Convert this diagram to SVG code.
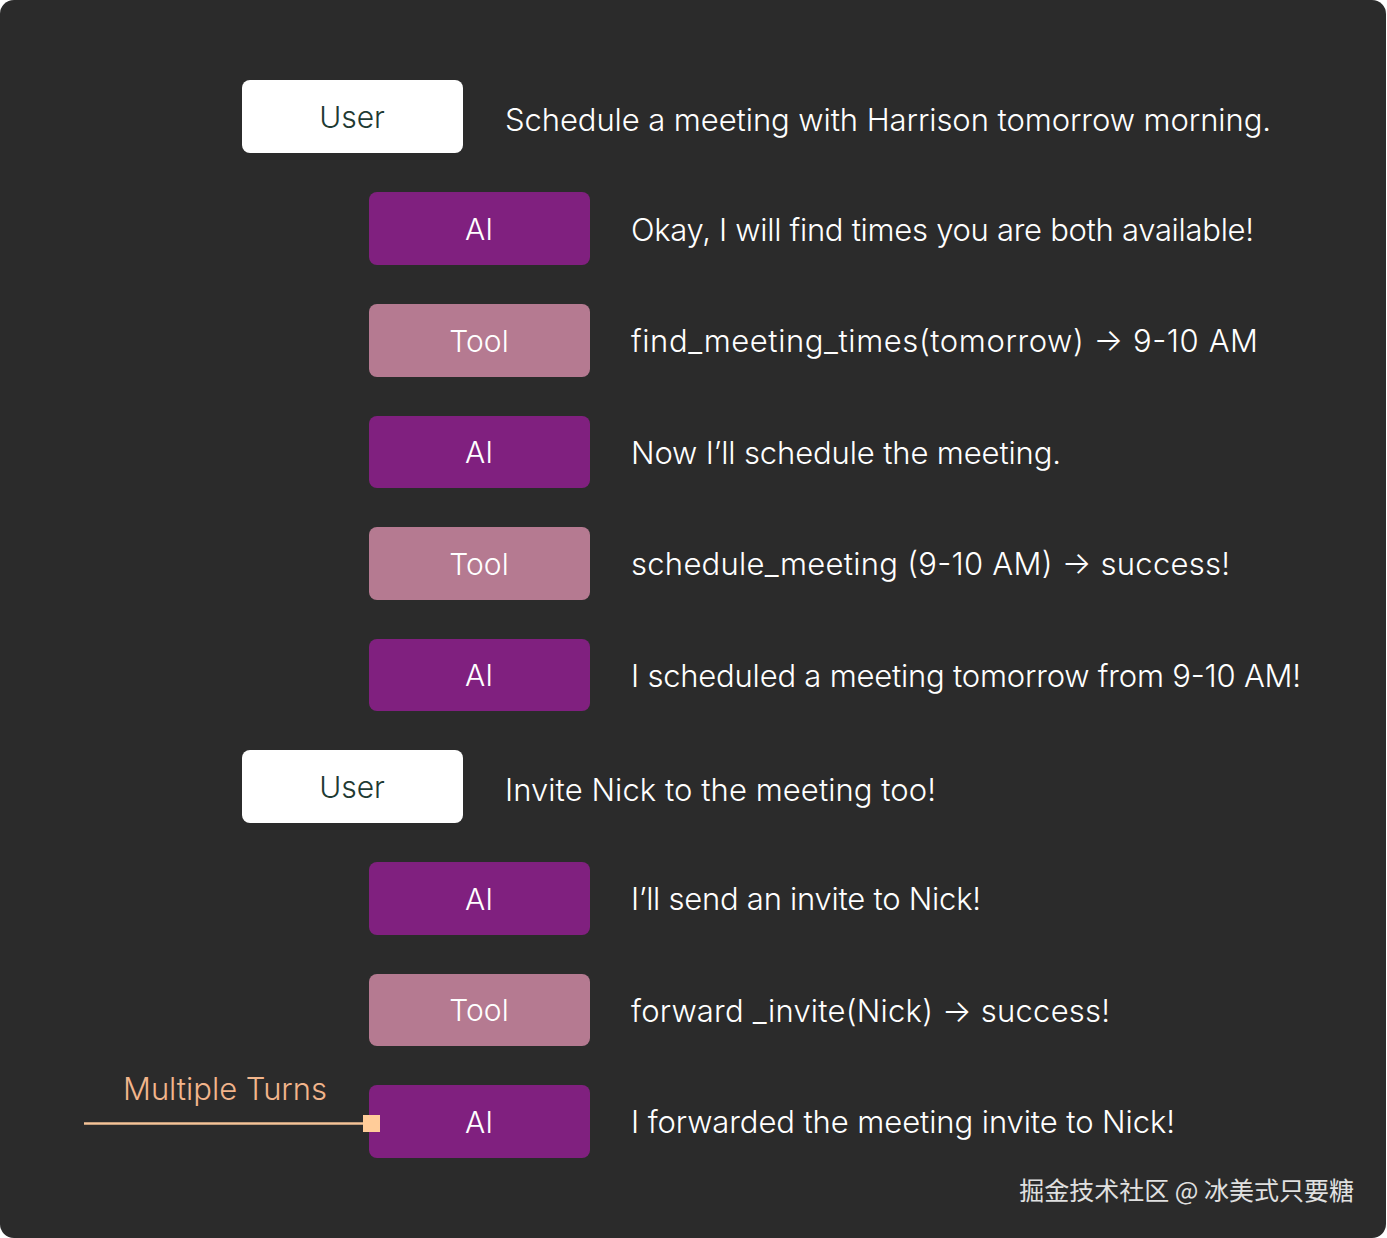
<svg xmlns="http://www.w3.org/2000/svg" width="1387" height="1238" viewBox="0 0 1387 1238">
<style>
.box{stroke:none}
.user{fill:#ffffff}
.ai{fill:#80207f}
.tool{fill:#b57a91}
.lbl{font-family:Inter,"Open Sans","Noto Sans",sans-serif;font-size:30px;font-weight:300;text-anchor:middle;fill:#ffffff}
.ulbl{fill:#1f3a32}
.msg{font-family:Inter,"Open Sans","Noto Sans",sans-serif;font-size:31px;font-weight:300;fill:#ffffff}
</style>
<rect x="0" y="0" width="1386" height="1238" rx="14" fill="#2b2b2b"/>
<g id="row1"><rect class="box user" x="242" y="80" width="221" height="73" rx="8"/><text class="lbl ulbl" x="352" y="128">User</text><text class="msg" x="505" y="131" textLength="766" lengthAdjust="spacing">Schedule a meeting with Harrison tomorrow morning.</text></g>
<g id="row2"><rect class="box ai" x="369" y="192" width="221" height="73" rx="8"/><text class="lbl" x="479" y="240">AI</text><text class="msg" x="631" y="241" textLength="623" lengthAdjust="spacing">Okay, I will find times you are both available!</text></g>
<g id="row3"><rect class="box tool" x="369" y="304" width="221" height="73" rx="8"/><text class="lbl" x="479" y="352">Tool</text><text class="msg" x="631" y="352" textLength="627" lengthAdjust="spacing">find_meeting_times(tomorrow) → 9-10 AM</text></g>
<g id="row4"><rect class="box ai" x="369" y="416" width="221" height="72" rx="8"/><text class="lbl" x="479" y="463">AI</text><text class="msg" x="631" y="464" textLength="430" lengthAdjust="spacing">Now I’ll schedule the meeting.</text></g>
<g id="row5"><rect class="box tool" x="369" y="527" width="221" height="73" rx="8"/><text class="lbl" x="479" y="575">Tool</text><text class="msg" x="631" y="575" textLength="599" lengthAdjust="spacing">schedule_meeting (9-10 AM) → success!</text></g>
<g id="row6"><rect class="box ai" x="369" y="639" width="221" height="72" rx="8"/><text class="lbl" x="479" y="686">AI</text><text class="msg" x="631" y="687" textLength="670" lengthAdjust="spacing">I scheduled a meeting tomorrow from 9-10 AM!</text></g>
<g id="row7"><rect class="box user" x="242" y="750" width="221" height="73" rx="8"/><text class="lbl ulbl" x="352" y="798">User</text><text class="msg" x="505" y="801" textLength="431" lengthAdjust="spacing">Invite Nick to the meeting too!</text></g>
<g id="row8"><rect class="box ai" x="369" y="862" width="221" height="73" rx="8"/><text class="lbl" x="479" y="910">AI</text><text class="msg" x="631" y="910" textLength="350" lengthAdjust="spacing">I’ll send an invite to Nick!</text></g>
<g id="row9"><rect class="box tool" x="369" y="974" width="221" height="72" rx="8"/><text class="lbl" x="479" y="1021">Tool</text><text class="msg" x="631" y="1022" textLength="479" lengthAdjust="spacing">forward _invite(Nick) → success!</text></g>
<g id="row10"><rect class="box ai" x="369" y="1085" width="221" height="73" rx="8"/><text class="lbl" x="479" y="1133">AI</text><text class="msg" x="631" y="1133" textLength="544" lengthAdjust="spacing">I forwarded the meeting invite to Nick!</text></g>
<g id="connectors">
<line x1="84" y1="1123.5" x2="366" y2="1123.5" stroke="#f5c397" stroke-width="2.5"/>
<rect x="363" y="1115" width="17" height="17" fill="#ffcc99"/>
<text x="123" y="1100" font-family="Inter,'Open Sans',sans-serif" font-size="31" font-weight="300" fill="#f2b58b" textLength="204" lengthAdjust="spacing">Multiple Turns</text>
</g>
<text x="1354" y="1200" text-anchor="end" font-family="'Noto Sans CJK SC',sans-serif" font-size="25" fill="#e0e0e0">掘金技术社区 @ 冰美式只要糖</text>
</svg>
